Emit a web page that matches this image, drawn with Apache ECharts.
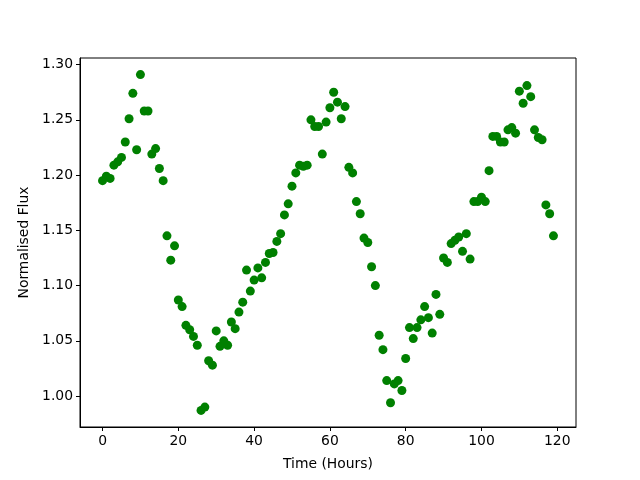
<!DOCTYPE html>
<html>
<head>
<meta charset="utf-8">
<script src="https://cdn.jsdelivr.net/npm/echarts@6.0.0/dist/echarts.min.js"></script>
<style>
  html, body { margin: 0; padding: 0; background: #fff; }
  #chart { width: 640px; height: 480px; }
</style>
</head>
<body>
<div id="chart"></div>
<script>
// time in hours
const hours = [
  0, 1, 2, 3, 4, 5, 6, 7, 8, 9, 10, 11, 12, 13, 14, 15, 16, 17, 18, 19,
  20, 21, 22, 23, 24, 25, 26, 27, 28, 29, 30, 31, 32, 33, 34, 35, 36, 37, 38, 39,
  40, 41, 42, 43, 44, 45, 46, 47, 48, 49, 50, 51, 52, 53, 54, 55, 56, 57, 58, 59,
  60, 61, 62, 63, 64, 65, 66, 67, 68, 69, 70, 71, 72, 73, 74, 75, 76, 77, 78, 79,
  80, 81, 82, 83, 84, 85, 86, 87, 88, 89, 90, 91, 92, 93, 94, 95, 96, 97, 98, 99,
  100, 101, 102, 103, 104, 105, 106, 107, 108, 109, 110, 111, 112, 113, 114, 115, 116, 117, 118, 119
];

// normalised flux
const flux = [
  1.195, 1.199, 1.197, 1.209, 1.212, 1.216, 1.230, 1.251, 1.274, 1.223,
  1.291, 1.258, 1.258, 1.219, 1.224, 1.206, 1.195, 1.145, 1.123, 1.136,
  1.087, 1.081, 1.064, 1.060, 1.054, 1.046, 0.987, 0.990, 1.032, 1.028,
  1.059, 1.045, 1.050, 1.046, 1.067, 1.061, 1.076, 1.085, 1.114, 1.095,
  1.105, 1.116, 1.107, 1.121, 1.129, 1.130, 1.140, 1.147, 1.164, 1.174,
  1.190, 1.202, 1.209, 1.208, 1.209, 1.250, 1.244, 1.244, 1.219, 1.248,
  1.261, 1.275, 1.266, 1.251, 1.262, 1.207, 1.202, 1.176, 1.165, 1.143,
  1.139, 1.117, 1.100, 1.055, 1.042, 1.014, 0.994, 1.011, 1.014, 1.005,
  1.034, 1.062, 1.052, 1.062, 1.069, 1.081, 1.071, 1.057, 1.092, 1.074,
  1.125, 1.121, 1.138, 1.141, 1.144, 1.131, 1.147, 1.124, 1.176, 1.176,
  1.180, 1.176, 1.204, 1.235, 1.235, 1.230, 1.230, 1.241, 1.243, 1.238,
  1.276, 1.265, 1.281, 1.271, 1.241, 1.234, 1.232, 1.173, 1.165, 1.145
];

const xTicks = [0, 20, 40, 60, 80, 100, 120];
const yTicks = [1.00, 1.05, 1.10, 1.15, 1.20, 1.25, 1.30];

const font = "DejaVu Sans";
const fontSize = 13.9;
const chart = echarts.init(document.getElementById("chart"), null, { renderer: "canvas" });

const points = hours.map((h, i) => [h, flux[i]]);

const option = {
  animation: false,
  backgroundColor: "#fff",
  textStyle: { fontFamily: font },
  grid: {
    left: 80,
    right: 64,
    top: 58,
    bottom: 53,
    show: true,
    borderColor: "#000",
    borderWidth: 1,
    backgroundColor: "transparent",
  },
  xAxis: {
    type: "value",
    min: -5.95,
    max: 124.95,
    name: "Time (Hours)",
    nameLocation: "middle",
    nameGap: 30,
    nameTextStyle: { color: "#000", fontSize: fontSize, fontFamily: font },
    axisLine: { show: true, onZero: false, lineStyle: { color: "#000", width: 1 } },
    axisTick: { show: true, length: 4, customValues: xTicks, lineStyle: { color: "#000" } },
    axisLabel: { color: "#000", fontSize: fontSize, margin: 7, fontFamily: font, customValues: xTicks },
    splitLine: { show: false },
  },
  yAxis: {
    type: "value",
    min: 0.972,
    max: 1.306,
    name: "Normalised Flux",
    nameLocation: "middle",
    nameGap: 43,
    nameRotate: 90,
    nameTextStyle: { color: "#000", fontSize: fontSize, fontFamily: font },
    axisLine: { show: true, onZero: false, lineStyle: { color: "#000", width: 1 } },
    axisTick: { show: true, length: 4, customValues: yTicks, lineStyle: { color: "#000" } },
    axisLabel: {
      color: "#000",
      fontSize: fontSize,
      margin: 7,
      fontFamily: font,
      customValues: yTicks,
      formatter: (v) => v.toFixed(2),
    },
    splitLine: { show: false },
  },
  series: [
    {
      type: "scatter",
      data: points,
      symbol: "circle",
      symbolSize: 9,
      itemStyle: { color: "#008000", opacity: 1 },
    },
  ],
};

chart.setOption(option);
</script>
</body>
</html>
